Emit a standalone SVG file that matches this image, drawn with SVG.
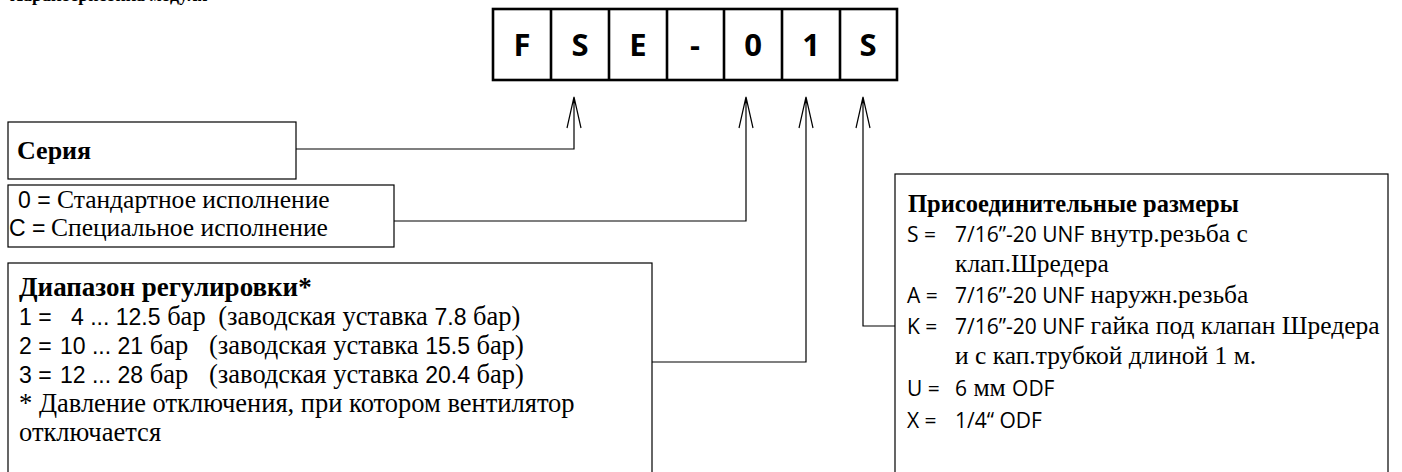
<svg xmlns="http://www.w3.org/2000/svg" width="1402" height="472" viewBox="0 0 1402 472">
<defs>
<style>
.box{fill:#fff;stroke:#000;stroke-width:1.2}
.code{fill:none;stroke:#000;stroke-width:2.6}
.cl{font-family:"Open Sans","Liberation Sans",sans-serif;font-weight:bold;font-size:31px;text-anchor:middle}
.se{font-family:"Liberation Serif",serif;font-size:25.5px}
.sl{font-family:"Liberation Serif",serif;font-size:26.5px}
.sb{font-family:"Liberation Serif",serif;font-size:24.5px;font-weight:bold}
.sa{font-family:"Open Sans","Liberation Sans",sans-serif;font-size:21px}
.sn{font-family:"Liberation Sans Narrow","Arial Narrow","Liberation Sans",sans-serif;font-size:23px}
.con{fill:none;stroke:#000;stroke-width:1.2}
</style>
</defs>
<rect width="1402" height="472" fill="#fff"/>
<text x="10" y="0.5" font-family="Liberation Serif, serif" font-size="18" font-weight="bold">Характеристика модуля</text>
<g id="code">
<rect class="code" x="493" y="9" width="404" height="71"/>
<path class="code" d="M551,9V80M609,9V80M667,9V80M724,9V80M782,9V80M840,9V80"/>
<text class="cl" x="522" y="56">F</text>
<text class="cl" x="580" y="56">S</text>
<text class="cl" x="638" y="56">E</text>
<text class="cl" x="695" y="56">-</text>
<text class="cl" x="753" y="56">0</text>
<text class="cl" x="811" y="56">1</text>
<text class="cl" x="868" y="56">S</text>
</g>
<g id="series">
<rect class="box" x="8" y="122" width="288" height="57"/>
<text class="sb" x="17" y="159" style="font-size:26px">Серия</text>
</g>
<g id="version">
<rect class="box" x="8" y="185" width="386" height="62"/>
<text class="se" y="208"><tspan class="sn" x="18">0 =</tspan><tspan x="57">Стандартное исполнение</tspan></text>
<text class="se" y="236"><tspan class="sn" x="9">C =</tspan><tspan x="51">Специальное исполнение</tspan></text>
</g>
<g id="range">
<rect class="box" x="8" y="263" width="644" height="220"/>
<text class="sb" x="19" y="296" style="font-size:27px">Диапазон регулировки*</text>
<text class="sl" y="325"><tspan class="sn" x="19">1 =</tspan><tspan class="sn" x="71">4 ... 12.5</tspan> бар <tspan dx="6">(заводская уставка </tspan><tspan class="sn">7.8</tspan> бар)</text>
<text class="sl" y="354"><tspan class="sn" x="19">2 =</tspan><tspan class="sn" x="60">10 ... 21</tspan> бар <tspan x="209">(заводская уставка </tspan><tspan class="sn">15.5</tspan> бар)</text>
<text class="sl" y="383"><tspan class="sn" x="19">3 =</tspan><tspan class="sn" x="60">12 ... 28</tspan> бар <tspan x="209">(заводская уставка </tspan><tspan class="sn">20.4</tspan> бар)</text>
<text class="sl" x="19" y="412">* Давление отключения, при котором вентилятор</text>
<text class="sl" x="19" y="441">отключается</text>
</g>
<g id="connection">
<rect class="box" x="895" y="174" width="493" height="310"/>
<text class="sb" x="908" y="212">Присоединительные размеры</text>
<text class="se" y="242"><tspan class="sa" x="907">S =</tspan><tspan class="sa" x="955">7/16”-20 UNF</tspan> внутр.резьба с</text>
<text class="se" x="955" y="272">клап.Шредера</text>
<text class="se" y="303"><tspan class="sa" x="907">A =</tspan><tspan class="sa" x="955">7/16”-20 UNF</tspan> наружн.резьба</text>
<text class="se" y="334"><tspan class="sa" x="907">K =</tspan><tspan class="sa" x="955">7/16”-20 UNF</tspan> гайка под клапан Шредера</text>
<text class="se" x="955" y="364">и с кап.трубкой длиной 1 м.</text>
<text class="se" y="396"><tspan class="sa" x="907">U =</tspan><tspan class="sa" x="955">6</tspan> мм <tspan class="sa">ODF</tspan></text>
<text class="se" y="428"><tspan class="sa" x="907">X =</tspan><tspan class="sa" x="955">1/4“ ODF</tspan></text>
</g>
<g id="connectors">
<path class="con" d="M296,149H574V97M567,128L574,97L581,128"/>
<path class="con" d="M394,221H746V97M739,128L746,97L753,128"/>
<path class="con" d="M652,362H806V97M799,128L806,97L813,128"/>
<path class="con" d="M895,326H863V97M856,128L863,97L870,128"/>
</g>
</svg>
